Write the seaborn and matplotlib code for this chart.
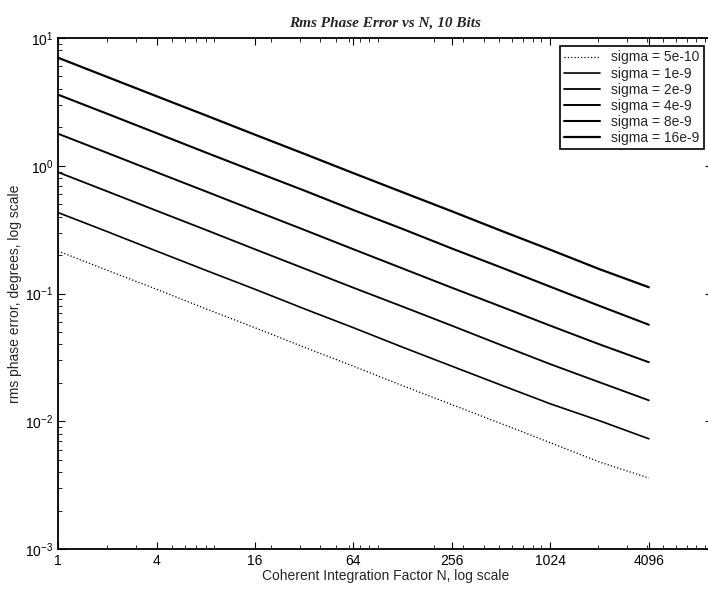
import numpy as np
import pandas as pd
import seaborn as sns
import matplotlib
matplotlib.use("Agg")
import matplotlib.pyplot as plt
from matplotlib.ticker import FixedLocator, FixedFormatter, LogLocator, NullFormatter

# values
n_values = [1, 2, 4, 8, 16, 32, 64, 128, 256, 512, 1024, 2048, 4096]
sigma_labels = ["sigma = 5e-10", "sigma = 1e-9", "sigma = 2e-9",
                "sigma = 4e-9", "sigma = 8e-9", "sigma = 16e-9"]
err_5e10 = [0.215, 0.152, 0.108, 0.076, 0.054, 0.038, 0.027, 0.019, 0.0135, 0.0096, 0.0068, 0.0048, 0.0036]
err_1e9 = [0.43, 0.305, 0.215, 0.152, 0.108, 0.076, 0.054, 0.038, 0.027, 0.0192, 0.0137, 0.0101, 0.0073]
err_2e9 = [0.89, 0.63, 0.445, 0.315, 0.222, 0.157, 0.111, 0.079, 0.056, 0.0395, 0.028, 0.0202, 0.0146]
err_4e9 = [1.78, 1.26, 0.89, 0.63, 0.445, 0.315, 0.222, 0.157, 0.111, 0.079, 0.056, 0.04, 0.029]
err_8e9 = [3.6, 2.55, 1.8, 1.27, 0.9, 0.64, 0.45, 0.32, 0.225, 0.16, 0.113, 0.08, 0.057]
err_16e9 = [7.0, 4.95, 3.5, 2.48, 1.75, 1.24, 0.875, 0.62, 0.44, 0.31, 0.22, 0.155, 0.112]
x_ticks = [1, 4, 16, 64, 256, 1024, 4096]
x_tick_labels = ["1", "4", "16", "64", "256", "1024", "4096"]

series = [err_5e10, err_1e9, err_2e9, err_4e9, err_8e9, err_16e9]
df = pd.DataFrame({
    "N": n_values * len(series),
    "err": [v for s in series for v in s],
    "sigma": [lab for lab in sigma_labels for _ in n_values],
})

sns.set_style("ticks")
plt.rcParams['font.family'] = ['Liberation Sans', 'DejaVu Sans']

fig = plt.figure(figsize=(7.08, 5.93), dpi=100)
ax = fig.add_axes([0.082, 0.074, 0.924, 0.862])

styles = [":", "-", "-", "-", "-", "-"]
widths = [0.9, 1.2, 1.3, 1.4, 1.5, 1.6]
for lab, ls, lw in zip(sigma_labels, styles, widths):
    sns.lineplot(data=df[df["sigma"] == lab], x="N", y="err", ax=ax,
                 color="black", linestyle=ls, linewidth=lw, label=lab)

ax.set_xscale("log")
ax.set_yscale("log")
ax.set_xlim(1, 10000)
ax.set_ylim(1e-3, 1e1)

ax.xaxis.set_major_locator(FixedLocator(x_ticks))
ax.xaxis.set_major_formatter(FixedFormatter(x_tick_labels))
ax.xaxis.set_minor_locator(LogLocator(base=10, subs=np.arange(2, 10)))
ax.xaxis.set_minor_formatter(NullFormatter())
ax.yaxis.set_major_locator(LogLocator(base=10, numticks=10))
ax.yaxis.set_minor_locator(LogLocator(base=10, subs=np.arange(2, 10), numticks=10))

ax.tick_params(which="both", direction="in", top=True, right=True, colors="black")
ax.tick_params(which="major", length=5, labelsize=10)
ax.tick_params(which="minor", length=3)
for sp in ax.spines.values():
    sp.set_color("black")
    sp.set_linewidth(1.3)

ax.set_xlabel("Coherent Integration Factor N, log scale", fontsize=10, labelpad=1)
ax.set_ylabel("rms phase error, degrees, log scale", fontsize=10, labelpad=2)
ax.set_title("Rms Phase Error vs N, 10 Bits", fontsize=11, fontstyle="italic",
             fontweight="bold", family=["Liberation Serif", "DejaVu Serif"], pad=8)

leg = ax.legend(loc="upper right", fontsize=10, handlelength=2.6, borderaxespad=0.6,
                fancybox=False, framealpha=1, labelspacing=0.15, borderpad=0.3)
leg.get_frame().set_edgecolor("black")
leg.get_frame().set_linewidth(1.2)

fig.savefig("out.png", dpi=100)
